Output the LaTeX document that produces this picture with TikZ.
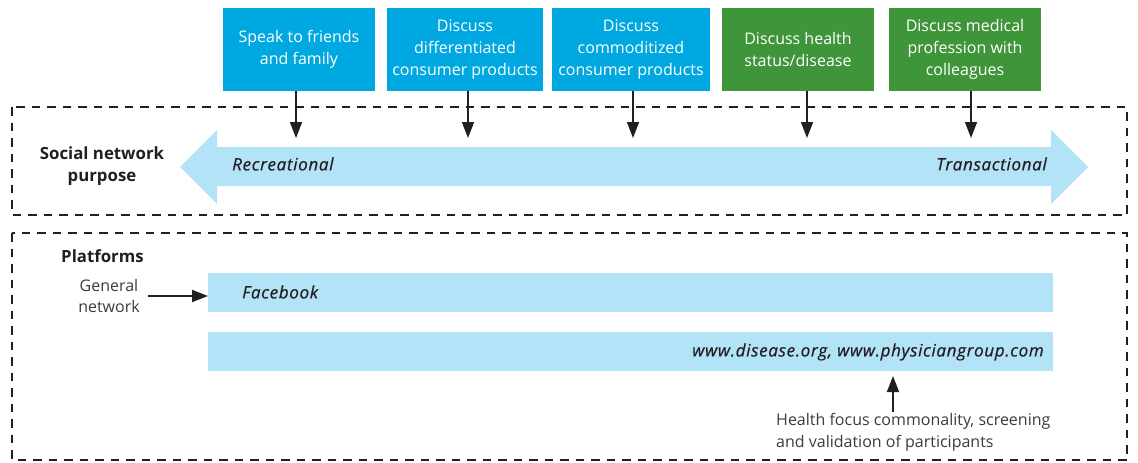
\documentclass[tikz,border=0pt]{standalone}
\usepackage{fontspec}
\setmainfont{Open Sans}
\newfontfamily\lblfam{Open Sans}[FakeBold=0.6, LetterSpace=4]
\usetikzlibrary{arrows.meta,calc}
\definecolor{boxblue}{HTML}{00A8E1}
\definecolor{boxgreen}{HTML}{3F953A}
\definecolor{lightblue}{HTML}{B3E3F7}
\definecolor{ink}{HTML}{231F20}
\definecolor{graytxt}{HTML}{3C3C3C}
\begin{document}
\begin{tikzpicture}[x=1pt,y=-1pt,
  topbox/.style={minimum height=83pt, inner sep=0pt, text=white, align=center,
    font=\fontsize{16}{21.8}\selectfont},
  bluebox/.style={topbox, fill=boxblue},
  greenbox/.style={topbox, fill=boxgreen},
  frame/.style={draw=ink, line width=1.3pt, dash pattern=on 8.5pt off 7pt},
  conn/.style={draw=ink, line width=1.5pt, -{Triangle[width=12pt,length=16pt]}},
  band/.style={fill=lightblue, inner sep=0pt, minimum height=39pt, minimum width=845pt, anchor=north west},
  lbl/.style={font=\lblfam\fontsize{17}{21.5}\selectfont\itshape, text=ink, inner sep=0pt},
  heading/.style={font=\fontsize{16.8}{22}\selectfont\bfseries, text=ink, align=center, inner sep=0pt},
  note/.style={font=\fontsize{16}{21.5}\selectfont, text=graytxt, inner sep=0pt}]
\fill[white] (0,0) rectangle (1138,463);
\useasboundingbox (0,0) rectangle (1138,463);

% top boxes
\node[bluebox, minimum width=152pt] (b1) at (299,49.5) {Speak to friends\\and family};
\node[bluebox, minimum width=156pt] (b2) at (465,49.5) {Discuss\\differentiated\\consumer products};
\node[bluebox, minimum width=158pt] (b3) at (631,49.5) {Discuss\\commoditized\\consumer products};
\node[greenbox, minimum width=152pt] (b4) at (798,49.5) {Discuss health\\status/disease};
\node[greenbox, minimum width=152pt] (b5) at (965,49.5) {Discuss medical\\profession with\\colleagues};

% frames
\draw[frame] (12,107) rectangle (1127,215);
\draw[frame] (12,233) rectangle (1127,460);

% purpose double arrow
\fill[lightblue] (180,167) -- (217,130) -- (217,147) -- (1051,147) -- (1051,130)
  -- (1088,167) -- (1051,204) -- (1051,186) -- (217,186) -- (217,204) -- cycle;
\node[lbl, anchor=west] (rec) at (232,164) {Recreational};
\node[lbl, anchor=east] (tra) at (1047,164) {Transactional};
\node[heading] (snp) at (102,166) {Social network\\purpose};

% arrows from boxes
\coordinate (t1) at (296,138);
\coordinate (t2) at (468,138);
\coordinate (t3) at (633,138);
\coordinate (t4) at (807,138);
\coordinate (t5) at (971,138);
\draw[conn] (b1.south -| t1) -- (t1);
\draw[conn] (b2.south -| t2) -- (t2);
\draw[conn] (b3.south -| t3) -- (t3);
\draw[conn] (b4.south -| t4) -- (t4);
\draw[conn] (b5.south -| t5) -- (t5);

% platforms
\node[heading, anchor=west] (plat) at (61,256) {Platforms};
\node[note, align=center] (gen) at (109,296) {General\\network};
\node[band] (fb) at (208,273) {};
\node[lbl, anchor=west] (fbt) at (242,292) {Facebook};
\node[band] (url) at (208,332) {};
\node[lbl, anchor=east] (urlt) at (1044,352) {www.disease.org, www.physiciangroup.com};
\draw[conn] ([xshift=8pt]gen.east |- 0,296) -- (fb.west |- 0,296);

\node[note, align=left, anchor=west] (hf) at (776,432.5) {Health focus commonality, screening\\and validation of participants};
\coordinate (hp) at (893,376);
\draw[conn] (hf.north -| hp) ++(0,-2) -- (hp);
\end{tikzpicture}
\end{document}
